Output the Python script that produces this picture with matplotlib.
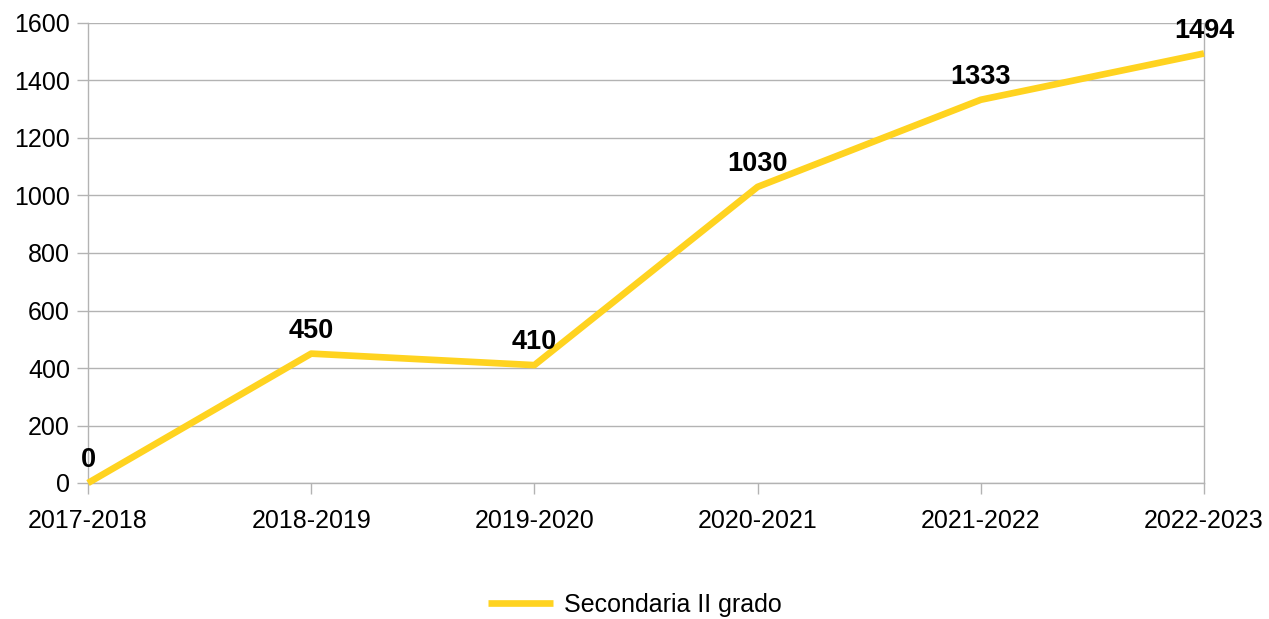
import matplotlib
matplotlib.use("Agg")
import matplotlib.pyplot as plt

categories = ["2017-2018", "2018-2019", "2019-2020", "2020-2021", "2021-2022", "2022-2023"]
values = [0, 450, 410, 1030, 1333, 1494]
series_name = "Secondaria II grado"
yticks = [0, 200, 400, 600, 800, 1000, 1200, 1400, 1600]

plt.rcParams['font.family'] = ['Liberation Sans', 'DejaVu Sans']

W, H = 1269, 619
fig = plt.figure(figsize=(W/100, H/100), dpi=100)
ax = fig.add_axes([88/W, (H-483)/H, (1204-88)/W, (483-23)/H])

x = list(range(len(categories)))
color = "#FFD320"
line, = ax.plot(x, values, color=color, lw=4.8, clip_on=False, zorder=3,
                solid_capstyle='butt', solid_joinstyle='round', label=series_name)

for xi, v in zip(x, values):
    ax.annotate(str(v), (xi, v), xytext=(0, 7), textcoords='offset points',
                ha='center', va='bottom', fontsize=19.5, fontweight='bold', zorder=4,
                annotation_clip=False)

ax.set_xlim(0, len(categories) - 1)
ax.set_ylim(0, 1600)
ax.set_yticks(yticks)
ax.set_xticks(x)
ax.set_xticklabels(categories)

grid_c = "#b3b3b3"
ax.yaxis.grid(True, color=grid_c, lw=1)
ax.set_axisbelow(True)
ax.spines['top'].set_visible(False)
for s in ['left', 'right', 'bottom']:
    ax.spines[s].set_color(grid_c)
    ax.spines[s].set_linewidth(1)

ax.tick_params(axis='both', colors=grid_c, labelcolor='black', labelsize=18, width=1)
ax.tick_params(axis='y', length=8, pad=5)
ax.tick_params(axis='x', length=8, pad=11)

fig.legend(handles=[line], labels=[series_name], loc='center', bbox_to_anchor=(635/W, 1 - 605/H),
           frameon=False, fontsize=18, handlelength=2.6, handletextpad=0.45)

fig.savefig("out.png", dpi=100)
